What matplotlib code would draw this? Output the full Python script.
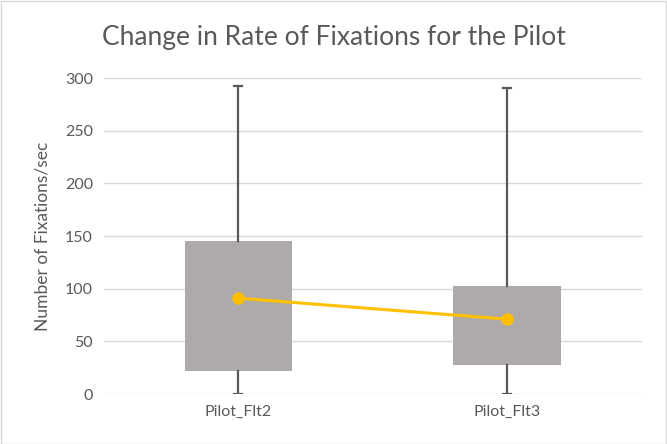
import matplotlib
matplotlib.use("Agg")
import matplotlib.pyplot as plt
from matplotlib.patches import Rectangle

categories = ["Pilot_Flt2", "Pilot_Flt3"]
whisker_low = [0, 0]
q1 = [22, 28]
q3 = [145, 102.5]
whisker_high = [292, 290.5]
means = [91, 71]
yticks = [0, 50, 100, 150, 200, 250, 300]

plt.rcParams['font.family'] = ['Lato', 'DejaVu Sans']
fig = plt.figure(figsize=(6.67, 4.44), dpi=100)
ax = fig.add_axes([0.156, 0.1126, 0.806, 0.7117])

stats = []
for i, c in enumerate(categories):
    stats.append(dict(label=c, whislo=whisker_low[i], q1=q1[i], med=q1[i],
                      q3=q3[i], whishi=whisker_high[i]))
pos = list(range(1, len(categories) + 1))
ax.bxp(stats, positions=pos, widths=0.4, patch_artist=True, showfliers=False,
       boxprops=dict(facecolor='#ADAAA9', edgecolor='none', linewidth=0),
       whiskerprops=dict(color='#595959', linewidth=1.6),
       capprops=dict(color='#595959', linewidth=1.6),
       capwidths=0.03,
       medianprops=dict(linewidth=0), zorder=2)
ax.plot(pos, means, color='#FFC000', linewidth=2.2, marker='o', markersize=8, zorder=3)

ax.set_xlim(0.5, 2.5)
ax.set_ylim(0, 300)
ax.set_yticks(yticks)
ax.set_xticks(pos)
ax.set_xticklabels(categories)
ax.yaxis.grid(True, color='#D9D9D9', linewidth=1)
ax.set_axisbelow(True)
for s in ax.spines.values():
    s.set_visible(False)
ax.tick_params(axis='both', length=0, labelsize=11.5, colors='#595959', pad=8)
ax.set_ylabel("Number of Fixations/sec", fontsize=12.5, color='#595959', labelpad=10)
fig.text(0.153, 0.915, "Change in Rate of Fixations for the Pilot", fontsize=19,
         color='#595959', ha='left', va='center')
fig.patches.append(Rectangle((0.001, 0.001), 0.997, 0.997, transform=fig.transFigure,
                             fill=False, edgecolor='#D9D9D9', linewidth=1))
fig.savefig("out.png", dpi=100)
